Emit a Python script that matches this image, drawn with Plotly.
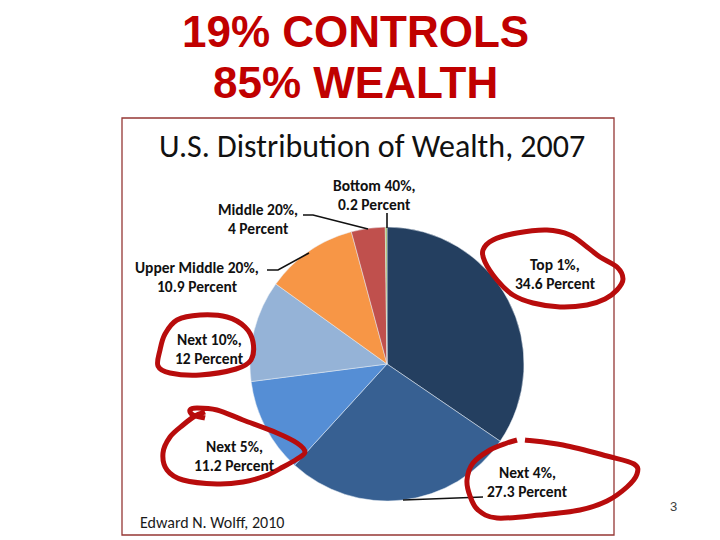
import plotly.graph_objects as go

# Wealth shares, clockwise from 12 o'clock
categories = ["Top 1%", "Next 4%", "Next 5%", "Next 10%",
              "Upper Middle 20%", "Middle 20%", "Bottom 40%"]
shares = [34.6, 27.3, 11.2, 12, 10.9, 4, 0.2]
colors = ["#243F60", "#376092", "#558ED5", "#95B3D7",
          "#F79646", "#C0504D", "#9BBB59"]

headline = ["19% CONTROLS", "85% WEALTH"]
chart_title = "U.S. Distribution of Wealth, 2007"
source = "Edward N. Wolff, 2010"
page_no = "3"

W, H = 720, 540
OFF = 8  # page body margin; positions below are in window pixels


def fx(x):
    return (x - OFF) / (W - OFF)


def fy(y):
    return 1 - (y - OFF) / (H - OFF)


def path_str(pts, smooth=False, closed=False):
    p = [(fx(x), fy(y)) for x, y in pts]
    if not smooth:
        s = "M %f,%f " % p[0] + " ".join("L %f,%f" % q for q in p[1:])
        return s + (" Z" if closed else "")
    n = len(p)
    s = "M %f,%f " % p[0]
    last = n if closed else n - 1
    for i in range(last):
        p0 = p[(i - 1) % n] if (closed or i > 0) else p[i]
        p1 = p[i]
        p2 = p[(i + 1) % n]
        p3 = p[(i + 2) % n] if (closed or i + 2 < n) else p2
        c1 = (p1[0] + (p2[0] - p0[0]) / 6, p1[1] + (p2[1] - p0[1]) / 6)
        c2 = (p2[0] - (p3[0] - p1[0]) / 6, p2[1] - (p3[1] - p1[1]) / 6)
        s += "C %f,%f %f,%f %f,%f " % (c1 + c2 + p2)
    return s


fig = go.Figure()
fig.add_trace(go.Pie(
    values=shares, labels=categories, sort=False, direction="clockwise",
    rotation=0, textinfo="none", showlegend=False, hoverinfo="label+value",
    marker=dict(colors=colors, line=dict(color="#E8EEF5", width=0.5)),
    domain=dict(x=[fx(250), fx(524)], y=[fy(501), fy(227)]),
))

shapes = []
# frame of the pasted chart
shapes.append(dict(type="rect", xref="paper", yref="paper",
                   x0=fx(122), x1=fx(614), y0=fy(535), y1=fy(118),
                   line=dict(color="#953735", width=1.3)))

# leader lines
leaders = [
    [(387, 213), (387, 228)],
    [(303, 215), (313, 215), (368, 229)],
    [(267, 270), (278, 270), (309, 253)],
    [(403, 500), (483, 497)],
]
for pts in leaders:
    shapes.append(dict(type="path", xref="paper", yref="paper",
                       path=path_str(pts), line=dict(color="#111111", width=1.6)))

# hand-drawn red loops
loops = [
    ([(493, 240), (517, 233), (547, 230), (570, 235), (587, 247), (600, 257),
      (617, 267), (623, 279), (617, 290), (605, 299), (587, 305), (560, 307),
      (533, 303), (513, 295), (497, 280), (485, 262), (483, 250)], True),
    ([(200, 315), (227, 317), (245, 327), (253, 342), (251, 360), (236, 369),
      (200, 375), (170, 373), (158, 366), (160, 350), (165, 334), (177, 320)], True),
    ([(205, 418), (193, 415), (190, 410), (197, 408), (217, 410), (243, 420),
      (277, 433), (297, 443), (305, 452), (297, 459), (283, 467), (265, 476),
      (243, 482), (217, 484), (183, 480), (167, 470), (163, 453), (170, 437),
      (183, 425), (195, 416), (205, 412)], False),
    ([(525, 440), (563, 445), (607, 456), (634, 464), (637, 474), (627, 487),
      (607, 501), (580, 510), (540, 515), (497, 518), (478, 510), (470, 496),
      (467, 480), (473, 463), (490, 450), (507, 443), (517, 440)], False),
]
for pts, closed in loops:
    shapes.append(dict(type="path", xref="paper", yref="paper",
                       path=path_str(pts, smooth=True, closed=closed),
                       line=dict(color="#B80C0C", width=5)))

annotations = []
for text, y in zip(headline, [31, 83]):
    annotations.append(dict(text=text, x=fx(355), y=fy(y), xref="paper", yref="paper",
                            showarrow=False, xanchor="center", yanchor="middle",
                            font=dict(family="Liberation Sans, Arial", size=44,
                                      color="#C00000", weight="bold")))

annotations.append(dict(text=chart_title, x=fx(372), y=fy(146), xref="paper",
                        yref="paper", showarrow=False, xanchor="center",
                        yanchor="middle",
                        font=dict(family="Carlito, Lato, sans-serif", size=32,
                                  color="#111111")))

label_pos = [(555, 274), (527, 482), (235, 456), (209, 349),
             (197, 277), (258, 219), (374, 195)]
for cat, val, (x, y) in zip(categories, shares, label_pos):
    for text, dy in ((f"{cat},", -9.25), (f"{val:g} Percent", 9.25)):
        annotations.append(dict(text=text, x=fx(x), y=fy(y + dy),
                                xref="paper", yref="paper", showarrow=False,
                                xanchor="center", yanchor="middle",
                                font=dict(family="Carlito, Lato, sans-serif", size=15.5,
                                          color="#111111", weight="bold")))

annotations.append(dict(text=source, x=fx(138), y=fy(522), xref="paper", yref="paper",
                        showarrow=False, xanchor="left", yanchor="middle",
                        font=dict(family="Carlito, Lato, sans-serif", size=16,
                                  color="#1A1A1A")))
annotations.append(dict(text=page_no, x=fx(673), y=fy(506), xref="paper", yref="paper",
                        showarrow=False, xanchor="center", yanchor="middle",
                        font=dict(family="Liberation Sans, Arial", size=13,
                                  color="#404040")))

fig.update_layout(width=W - OFF, height=H - OFF, margin=dict(l=0, r=0, t=0, b=0),
                  paper_bgcolor="white", plot_bgcolor="white",
                  shapes=shapes, annotations=annotations)

fig.write_html("out.html")
